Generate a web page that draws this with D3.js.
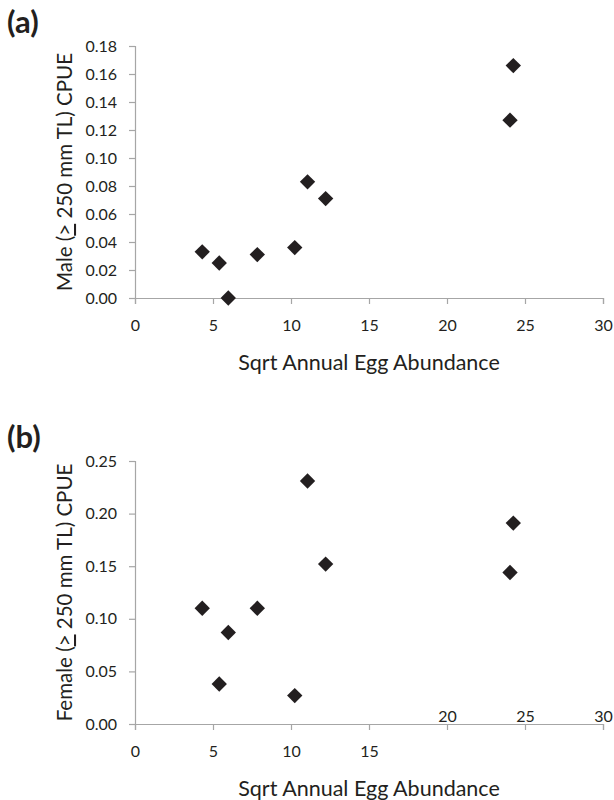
<!DOCTYPE html>
<html lang="en">
<head>
<meta charset="utf-8">
<title>Egg abundance vs CPUE</title>
<script src="https://cdn.jsdelivr.net/npm/d3@7"></script>
<style>
  body { margin: 0; background: #fff; }
  text { font-family: Lato, "Open Sans", sans-serif; fill: #231f20; }
</style>
</head>
<body>
<div id="chart"></div>
<script>
// sqrt annual egg abundance (same years in both panels)
var eggSqrt = [4.31, 5.40, 5.98, 7.84, 10.24, 11.06, 12.22, 24.04, 24.25];
var maleCpue = [0.033, 0.025, 0.000, 0.031, 0.036, 0.083, 0.071, 0.127, 0.166];
var femaleCpue = [0.110, 0.038, 0.087, 0.110, 0.027, 0.231, 0.152, 0.144, 0.191];

var xTicks = [0, 5, 10, 15, 20, 25, 30];
var maleTicks = [0, 0.02, 0.04, 0.06, 0.08, 0.10, 0.12, 0.14, 0.16, 0.18];
var femaleTicks = [0, 0.05, 0.10, 0.15, 0.20, 0.25];

var width = 614, height = 800;
var axisColor = '#a6a6a6';
var ink = '#231f20';

var svg = d3.select('#chart').append('svg')
  .attr('width', width).attr('height', height);

function drawPanel(opts) {
  var x = d3.scaleLinear().domain([0, 30]).range([135, 603]);
  var y = d3.scaleLinear().domain([0, opts.yMax]).range([opts.bottom, opts.top]);
  var g = svg.append('g');

  // panel letter
  g.append('text')
    .attr('x', 7).attr('y', opts.top - 13)
    .attr('font-size', 31).attr('font-weight', 'bold')
    .text(opts.letter);

  // y axis
  var yAxis = g.append('g')
    .attr('transform', 'translate(135,0)')
    .call(d3.axisLeft(y).tickValues(opts.yTicks).tickFormat(d3.format('.2f')).tickSize(6).tickPadding(12));
  yAxis.selectAll('line, path').attr('stroke', axisColor).attr('stroke-width', 1.2);
  yAxis.selectAll('text').attr('font-size', 16).style('font-family', 'Lato, sans-serif').attr('fill', ink);

  // x axis
  var xAxis = g.append('g')
    .attr('transform', 'translate(0,' + opts.bottom + ')')
    .call(d3.axisBottom(x).tickValues(xTicks).tickSize(6).tickPadding(16).tickSizeOuter(6));
  xAxis.selectAll('line, path').attr('stroke', axisColor).attr('stroke-width', 1.2);
  xAxis.selectAll('text').attr('font-size', 16).style('font-family', 'Lato, sans-serif').attr('fill', ink);
  if (opts.raiseLabels) {
    // labels for 20, 25, 30 sit just above the axis in the original
    xAxis.selectAll('.tick text')
      .filter(function(d) { return d >= 20; })
      .attr('y', -13);
  }

  // axis titles
  g.append('text')
    .attr('x', (x.range()[0] + x.range()[1]) / 2)
    .attr('y', opts.bottom + 72)
    .attr('text-anchor', 'middle')
    .attr('font-size', 21.5)
    .text('Sqrt Annual Egg Abundance');

  var yt = g.append('text')
    .attr('transform', 'translate(72,' + (opts.top + opts.bottom) / 2 + ') rotate(-90)')
    .attr('text-anchor', 'middle')
    .attr('font-size', 20.5);
  yt.append('tspan').text(opts.yLabel + ' (');
  yt.append('tspan').style('text-decoration', 'underline').text('>');
  yt.append('tspan').text(' 250 mm TL) CPUE');

  // points
  var diamond = d3.symbol().type(d3.symbolDiamond2).size(150);
  g.selectAll('path.pt')
    .data(eggSqrt.map(function(v, i) { return [v, opts.values[i]]; }))
    .enter().append('path')
    .attr('class', 'pt')
    .attr('d', diamond)
    .attr('transform', function(d) { return 'translate(' + x(d[0]) + ',' + y(d[1]) + ')'; })
    .attr('fill', ink);
}

drawPanel({ letter: '(a)', top: 46, bottom: 298, yMax: 0.18, yTicks: maleTicks,
  values: maleCpue, yLabel: 'Male', raiseLabels: false });
drawPanel({ letter: '(b)', top: 461, bottom: 724, yMax: 0.25, yTicks: femaleTicks,
  values: femaleCpue, yLabel: 'Female', raiseLabels: true });
</script>
</body>
</html>
